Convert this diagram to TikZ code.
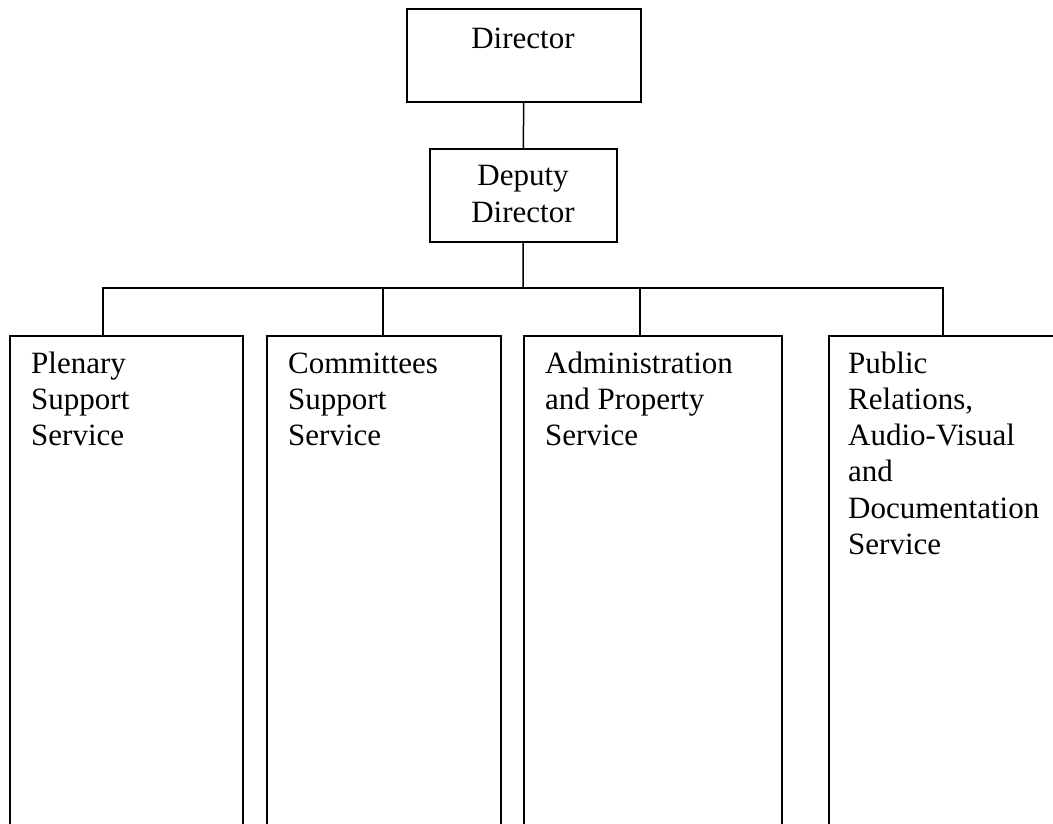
\documentclass[tikz,border=0pt]{standalone}
\usepackage{fontspec}
\setmainfont{Liberation Serif}
\begin{document}
\begin{tikzpicture}[x=1pt,y=-1pt,
  boxst/.style={draw,line width=1.5pt,rectangle,inner sep=0pt,anchor=north west},
  lbl/.style={font=\fontsize{31}{36.3}\selectfont,align=left,inner sep=0pt,anchor=base west},
  ctr/.style={font=\fontsize{31}{36.3}\selectfont,align=center,inner sep=0pt,anchor=base},
  conn/.style={line width=1.5pt}]
\useasboundingbox (0,0) rectangle (1053,823);
\clip (0,0) rectangle (1053,823);
% top boxes
\node[boxst,minimum width=234pt,minimum height=93pt] (dir) at (406,8) {};
\node[ctr] (dirt) at (523,48) {Director};
\node[boxst,minimum width=187pt,minimum height=93pt] (dep) at (429,148) {};
\node[ctr] (dept) at (523,222) {Deputy\\Director};
% service boxes
\node[boxst,minimum width=233pt,minimum height=520pt] (b1) at (9,335) {};
\node[boxst,minimum width=234pt,minimum height=520pt] (b2) at (266,335) {};
\node[boxst,minimum width=258pt,minimum height=520pt] (b3) at (523,335) {};
\node[boxst,minimum width=260pt,minimum height=520pt] (b4) at (828,335) {};
\node[lbl] (t1) at ([xshift=22pt,yshift=-110.6pt]b1.north west) {Plenary\\Support\\Service};
\node[lbl] (t2) at ([xshift=22pt,yshift=-110.6pt]b2.north west) {Committees\\Support\\Service};
\node[lbl] (t3) at ([xshift=22pt,yshift=-110.6pt]b3.north west) {Administration\\and Property\\Service};
\node[lbl] (t4) at ([xshift=20pt,yshift=-219.5pt]b4.north west) {Public\\Relations,\\Audio-Visual\\and\\Documentation\\Service};
% connectors
\coordinate (bus) at (523,288);
\draw[conn] (dir.south) -- (dep.north);
\draw[conn] (dep.south) -- (bus);
\draw[conn] (bus) -| ([xshift=94pt]b1.north west);
\draw[conn] (bus) -| ([xshift=117pt]b2.north west);
\draw[conn] (bus) -| ([xshift=117pt]b3.north west);
\draw[conn] (bus) -| ([xshift=115pt]b4.north west);
\end{tikzpicture}
\end{document}
